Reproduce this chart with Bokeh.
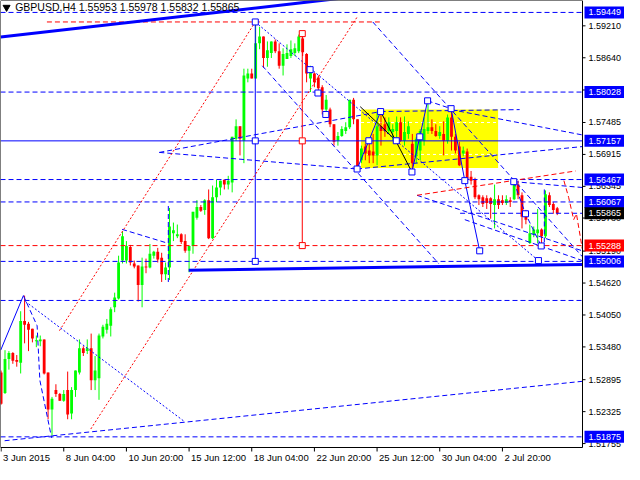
from bokeh.plotting import figure
from bokeh.models import Range1d
from bokeh.core.properties import value
from bokeh.embed import file_html
from bokeh.resources import INLINE

# ---------------- data ----------------
title_text = "GBPUSD,H4  1.55953 1.55978 1.55832 1.55865"

open_ = [1.53023, 1.52658, 1.53266, 1.53370, 1.53248, 1.53196, 1.53944, 1.53892, 1.53805, 1.53579,
         1.53579, 1.53614, 1.53023, 1.52362, 1.52710, 1.52640, 1.52518, 1.52710, 1.52293, 1.52710,
         1.53023, 1.53457, 1.53405, 1.53457, 1.52884, 1.52919, 1.53666, 1.53788, 1.53857, 1.54187,
         1.54344, 1.55021, 1.55021, 1.55265, 1.54969, 1.54934, 1.54587, 1.54917, 1.54899, 1.55108,
         1.55178, 1.55073, 1.54777, 1.54899, 1.55508, 1.55456, 1.55490, 1.55369, 1.55195, 1.55282,
         1.55786, 1.55977, 1.55925, 1.56099, 1.55421, 1.56151, 1.56325, 1.56464, 1.56377, 1.56412,
         1.57194, 1.57419, 1.57159, 1.58272, 1.58358, 1.58272, 1.58897, 1.59019, 1.58636, 1.58723,
         1.58932, 1.58758, 1.58497, 1.58619, 1.58671, 1.58723, 1.58758, 1.58984, 1.58706, 1.58272,
         1.58358, 1.58289, 1.58115, 1.57715, 1.57715, 1.57454, 1.57159, 1.57246, 1.57332, 1.57402,
         1.57889, 1.57541, 1.56811, 1.57055, 1.56985, 1.56968, 1.56898, 1.57419, 1.57454, 1.57332,
         1.57315, 1.57332, 1.57489, 1.57159, 1.57281, 1.57107, 1.56881, 1.56985, 1.57159, 1.57332,
         1.57402, 1.57332, 1.57246, 1.57281, 1.57159, 1.57576, 1.57229, 1.57055, 1.56933, 1.56968,
         1.56516, 1.56464, 1.56186, 1.56151, 1.56134, 1.56134, 1.56012, 1.56117, 1.56099, 1.56047,
         1.56099, 1.56117, 1.56377, 1.56186, 1.55855, 1.55334, 1.55490, 1.55508, 1.55577, 1.55456,
         1.56186, 1.56029, 1.55953]
high = [1.53058, 1.53422, 1.53405, 1.53387, 1.53335, 1.54117, 1.54396, 1.53927, 1.53805, 1.53683,
        1.53683, 1.53614, 1.53023, 1.52588, 1.52814, 1.52658, 1.52710, 1.53040, 1.52762, 1.53058,
        1.53614, 1.53492, 1.53614, 1.53718, 1.53318, 1.53718, 1.53875, 1.53979, 1.54187, 1.54448,
        1.55108, 1.55543, 1.55369, 1.55300, 1.55021, 1.54934, 1.55073, 1.55056, 1.55317, 1.55195,
        1.55247, 1.55160, 1.54986, 1.55960, 1.55699, 1.55664, 1.55508, 1.55490, 1.55282, 1.55890,
        1.56099, 1.56012, 1.56117, 1.56290, 1.56360, 1.56464, 1.56447, 1.56464, 1.56533, 1.57229,
        1.57541, 1.57419, 1.58445, 1.58445, 1.58445, 1.59262, 1.59193, 1.59019, 1.58932, 1.58932,
        1.58967, 1.58897, 1.58810, 1.58880, 1.58949, 1.58897, 1.59054, 1.59071, 1.58723, 1.58497,
        1.58376, 1.58324, 1.58150, 1.57976, 1.57750, 1.57454, 1.57315, 1.57419, 1.57489, 1.57889,
        1.57924, 1.57541, 1.57072, 1.57107, 1.57107, 1.57281, 1.57680, 1.57680, 1.57576, 1.57576,
        1.57454, 1.57593, 1.57576, 1.57593, 1.57506, 1.57281, 1.57229, 1.57367, 1.57576, 1.57872,
        1.57541, 1.57454, 1.57419, 1.57506, 1.57628, 1.57732, 1.57281, 1.57142, 1.57055, 1.57020,
        1.56620, 1.56499, 1.56203, 1.56186, 1.56186, 1.56151, 1.56377, 1.56186, 1.56186, 1.56186,
        1.56151, 1.56412, 1.56447, 1.56238, 1.55925, 1.55664, 1.55629, 1.55942, 1.55595, 1.56273,
        1.56238, 1.56064, 1.55978]
low = [1.52449, 1.52640, 1.53075, 1.53179, 1.53127, 1.53006, 1.53544, 1.53405, 1.53561, 1.53475,
       1.53492, 1.52988, 1.52189, 1.51893, 1.52588, 1.52518, 1.52501, 1.52189, 1.52189, 1.52588,
       1.52988, 1.53318, 1.53353, 1.52710, 1.52710, 1.52536, 1.53631, 1.53718, 1.53666, 1.54100,
       1.54326, 1.54969, 1.54969, 1.54934, 1.54882, 1.54291, 1.54187, 1.54795, 1.54882, 1.55056,
       1.54986, 1.54639, 1.54674, 1.54674, 1.55369, 1.55421, 1.55317, 1.55160, 1.54812, 1.55143,
       1.55751, 1.55890, 1.55838, 1.55404, 1.55404, 1.56064, 1.56186, 1.56290, 1.56290, 1.56238,
       1.57159, 1.56898, 1.56759, 1.58202, 1.58272, 1.58272, 1.58793, 1.58462, 1.58480, 1.58636,
       1.58723, 1.58445, 1.58324, 1.58619, 1.58636, 1.58671, 1.58723, 1.58671, 1.58202, 1.58028,
       1.58115, 1.58011, 1.57628, 1.57628, 1.57402, 1.57072, 1.57072, 1.57229, 1.57281, 1.57367,
       1.57454, 1.56637, 1.56759, 1.56811, 1.56759, 1.56759, 1.56724, 1.57072, 1.57229, 1.57281,
       1.57159, 1.57159, 1.57142, 1.57072, 1.57194, 1.56602, 1.56759, 1.56811, 1.57072, 1.57281,
       1.57281, 1.57229, 1.57194, 1.56898, 1.57107, 1.56985, 1.56933, 1.56707, 1.56881, 1.56412,
       1.56377, 1.56117, 1.56012, 1.55977, 1.55942, 1.55768, 1.55595, 1.55942, 1.56012, 1.56012,
       1.55977, 1.56099, 1.56117, 1.55595, 1.55669, 1.55317, 1.55438, 1.55334, 1.55265, 1.55421,
       1.55977, 1.55856, 1.55832]
close = [1.52466, 1.53266, 1.53370, 1.53231, 1.53214, 1.53944, 1.53875, 1.53788, 1.53631, 1.53596,
         1.53614, 1.53006, 1.52362, 1.52553, 1.52640, 1.52518, 1.52640, 1.52275, 1.52710, 1.53058,
         1.53457, 1.53370, 1.53457, 1.52884, 1.53058, 1.53683, 1.53840, 1.53892, 1.54152, 1.54361,
         1.54986, 1.55456, 1.55282, 1.54986, 1.54917, 1.54587, 1.54917, 1.54899, 1.55143, 1.55178,
         1.55038, 1.54777, 1.54899, 1.55629, 1.55560, 1.55490, 1.55352, 1.55195, 1.55282, 1.55890,
         1.55977, 1.55908, 1.56099, 1.55421, 1.56151, 1.56325, 1.56447, 1.56377, 1.56447, 1.57229,
         1.57419, 1.57194, 1.58324, 1.58358, 1.58272, 1.58897, 1.59019, 1.58636, 1.58775, 1.58932,
         1.58758, 1.58497, 1.58706, 1.58723, 1.58793, 1.58810, 1.59019, 1.58740, 1.58358, 1.58445,
         1.58202, 1.58098, 1.57715, 1.57889, 1.57454, 1.57142, 1.57246, 1.57367, 1.57402, 1.57889,
         1.57541, 1.56707, 1.57020, 1.56933, 1.56898, 1.56898, 1.57419, 1.57332, 1.57332, 1.57489,
         1.57367, 1.57489, 1.57159, 1.57315, 1.57419, 1.56759, 1.57194, 1.57332, 1.57367, 1.57402,
         1.57332, 1.57246, 1.57315, 1.57159, 1.57576, 1.57229, 1.56985, 1.56724, 1.56985, 1.56481,
         1.56447, 1.56151, 1.56117, 1.56029, 1.56047, 1.56029, 1.56117, 1.56012, 1.56047, 1.56117,
         1.56064, 1.56377, 1.56186, 1.55803, 1.55751, 1.55508, 1.55577, 1.55577, 1.55456, 1.56203,
         1.56012, 1.55925, 1.55865]
bars = list(range(len(close)))

x_tick_bars = [0, 16, 32, 48, 64, 80, 96, 112, 128]
x_tick_labels = ["3 Jun 2015", "8 Jun 04:00", "10 Jun 20:00", "15 Jun 12:00", "18 Jun 04:00",
                 "22 Jun 20:00", "25 Jun 12:00", "30 Jun 04:00", "2 Jul 20:00"]
y_tick_values = [1.59210, 1.58640, 1.58065, 1.57485, 1.56915, 1.56345, 1.55780, 1.55190,
                 1.54620, 1.54050, 1.53480, 1.52895, 1.52325, 1.51755]
y_tick_labels = ["1.59210", "1.58640", "1.58065", "1.57485", "1.56915", "1.56345", "1.55780",
                 "1.55190", "1.54620", "1.54050", "1.53480", "1.52895", "1.52325", "1.51755"]

# horizontal levels drawn on the chart
blue_dash_levels = [1.59449, 1.58028, 1.56467, 1.56067, 1.55006, 1.54309, 1.51875]
blue_solid_levels = [1.57157]
red_dash_levels = [1.55288]

# price tags on the right scale
tag_prices = [1.59449, 1.58028, 1.57157, 1.56467, 1.56067, 1.55865, 1.55288, 1.55006, 1.51875]
tag_texts = ["1.59449", "1.58028", "1.57157", "1.56467", "1.56067", "1.55865", "1.55288",
             "1.55006", "1.51875"]
tag_kinds = ["blue", "blue", "blue", "blue", "blue", "current", "red", "blue", "blue"]

# drawn objects (bar index, price)
zone_bars = [91.9, 126.9]
zone_prices = [1.56672, 1.57715]

blue_dash_x = [[5.7, 9.2, 9.9, 12.9], [0.9, 148.4], [66.7, 111.7], [40.4, 96.9], [40.4, 90.9],
               [90.9, 148.4], [94.9, 148.4], [96.9, 132.4], [114.9, 148.4], [108.9, 114.9],
               [106.2, 148.4], [118.4, 148.4], [130.9, 148.4], [130.9, 133.9, 137.9],
               [138.7, 138.7], [30.9, 42.4], [42.7, 42.7], [117.2, 148.4]]
blue_dash_y = [[1.54396, 1.53857, 1.52884, 1.51858], [1.51806, 1.52866], [1.58497, 1.54969],
               [1.56951, 1.57680], [1.56951, 1.56655], [1.56655, 1.57055], [1.59279, 1.55091],
               [1.57680, 1.57715], [1.57715, 1.57263], [1.57872, 1.57732], [1.56186, 1.55195],
               [1.55751, 1.55021], [1.56429, 1.56325], [1.56429, 1.55856, 1.55282],
               [1.56290, 1.55282], [1.55578, 1.55334], [1.55995, 1.54639], [1.55865, 1.55865]]
blue_dot_x = [[6.2, 46.7], [64.9, 137.2]]
blue_dot_y = [[1.54291, 1.52154], [1.59279, 1.55021]]
blue_solid_x = [[-0.1, 5.7], [90.9, 93.9, 96.9], [104.9, 106.9, 108.9], [114.9, 118.4, 122.2],
                [64.9, 64.9]]
blue_solid_y = [[1.53422, 1.54396], [1.56655, 1.57159, 1.57680], [1.56602, 1.57229, 1.57872],
                [1.57732, 1.56447, 1.55195], [1.59279, 1.55006]]
black_x = [[91.7, 100.9], [96.9, 104.9]]
black_y = [[1.57767, 1.57159], [1.57680, 1.56602]]
red_dot_x = [[14.9, 64.9], [22.9, 90.9]]
red_dot_y = [[1.53770, 1.59279], [1.52015, 1.59366]]
red_dash_x = [[11.7, 96.7], [106.2, 146.7], [143.7, 144.9, 146.2, 146.9, 148.4]]
red_dash_y = [[1.59279, 1.59279], [1.56186, 1.56620], [1.56447, 1.56151, 1.55751, 1.55856, 1.55230]]
red_solid_x = [[76.9, 76.9]]
red_solid_y = [[1.59071, 1.55288]]
thick_x = [[-0.1, 90.0], [47.9, 148.4]]
thick_y = [[1.59010, 1.59728], [1.54847, 1.54952]]

blue_sq_x = [64.9, 64.9, 64.9, 78.9, 80.9, 82.9, 90.9, 93.9, 96.9, 100.9, 104.9, 106.9, 108.9,
             114.9, 118.4, 122.2, 137.2, 130.9, 133.9, 137.9]
blue_sq_y = [1.59279, 1.57157, 1.55006, 1.58428, 1.58011, 1.57628, 1.56655, 1.57159, 1.57680,
             1.57159, 1.56602, 1.57229, 1.57872, 1.57732, 1.56447, 1.55195, 1.55021, 1.56429,
             1.55856, 1.55282]
red_sq_x = [76.9, 76.9, 76.9]
red_sq_y = [1.59071, 1.57157, 1.55288]

# ---------------- layout ----------------
W, H = 624, 464            # figure size (px)
CHART_W, CHART_H = 582, 447  # price area inside the figure (px)
X0, X1 = -0.15, 148.45     # bar range of the price area
Y0, Y1 = 1.51685, 1.59662  # price range of the price area
DX = (X1 - X0) / CHART_W   # data units per pixel
DY = (Y1 - Y0) / CHART_H
XR = X0 + DX * W
YB = Y1 - DY * H

BLUE = "#0000FF"
RED = "#FF0000"
GREEN = "#00FF00"
FONT = "Liberation Sans"

p = figure(width=W, height=H, x_range=Range1d(X0, XR), y_range=Range1d(YB, Y1),
           x_axis_location=None, y_axis_location=None, output_backend="svg",
           toolbar_location=None, min_border=0)
p.background_fill_color = "white"
p.border_fill_color = "white"
p.outline_line_color = None
p.xgrid.visible = False
p.ygrid.visible = False

# yellow zone
p.quad(left=[zone_bars[0]], right=[zone_bars[1]], bottom=[zone_prices[0]], top=[zone_prices[1]],
       fill_color="#FFFF00", line_color=None)
# white grid, visible only on the zone
grid_in_zone = [v for v in y_tick_values if zone_prices[0] < v < zone_prices[1]]
p.segment(x0=[zone_bars[0]] * len(grid_in_zone), x1=[zone_bars[1]] * len(grid_in_zone),
          y0=grid_in_zone, y1=grid_in_zone, line_color="white", line_dash="3 3", line_width=1)

# candles
colors = [GREEN if c >= o else RED for o, c in zip(open_, close)]
body_lo = [min(o, c) for o, c in zip(open_, close)]
body_hi = [max(max(o, c), min(o, c) + DY) for o, c in zip(open_, close)]
p.segment(x0=bars, x1=bars, y0=low, y1=high, line_color=colors, line_width=1)
p.vbar(x=bars, bottom=body_lo, top=body_hi, width=0.72, fill_color=colors, line_color=None)

# horizontal levels
def hlines(levels, color, dash, width=1):
    n = len(levels)
    p.segment(x0=[X0] * n, x1=[X1] * n, y0=levels, y1=levels, line_color=color,
              line_dash=dash, line_width=width)

hlines(blue_dash_levels, BLUE, "5 3")
hlines(blue_solid_levels, BLUE, "solid")
hlines(red_dash_levels, RED, "5 3")

# drawn trend objects
p.multi_line(xs=blue_dash_x, ys=blue_dash_y, line_color=BLUE, line_dash="5 3", line_width=1)
p.multi_line(xs=blue_dot_x, ys=blue_dot_y, line_color=BLUE, line_dash="2 2", line_width=1)
p.multi_line(xs=blue_solid_x, ys=blue_solid_y, line_color=BLUE, line_width=1)
p.multi_line(xs=black_x, ys=black_y, line_color="black", line_width=1)
p.multi_line(xs=red_dot_x, ys=red_dot_y, line_color=RED, line_dash="2 2", line_width=1)
p.multi_line(xs=red_dash_x, ys=red_dash_y, line_color=RED, line_dash="5 3", line_width=1)
p.multi_line(xs=red_solid_x, ys=red_solid_y, line_color=RED, line_width=1)
p.multi_line(xs=thick_x, ys=thick_y, line_color=BLUE, line_width=3)

p.scatter(x=blue_sq_x, y=blue_sq_y, marker="square", size=6, fill_color="white",
          line_color=BLUE, line_width=1)
p.scatter(x=red_sq_x, y=red_sq_y, marker="square", size=6, fill_color="white",
          line_color=RED, line_width=1)

# white axis area (covers anything drawn past the price area)
p.quad(left=[X1], right=[XR], bottom=[YB], top=[Y1], fill_color="white", line_color=None)
p.quad(left=[X0], right=[XR], bottom=[YB], top=[Y0], fill_color="white", line_color=None)

# frame border
p.multi_line(xs=[[X0, X1, X1, X0, X0]], ys=[[Y1, Y1, Y0, Y0, Y1]], line_color="black",
             line_width=1)

# x axis ticks + labels
nx = len(x_tick_bars)
p.segment(x0=x_tick_bars, x1=x_tick_bars, y0=[Y0] * nx, y1=[Y0 - 4 * DY] * nx,
          line_color="black", line_width=1)
p.text(x=x_tick_bars, y=[Y0] * nx, text=x_tick_labels, x_offset=2, y_offset=4,
       text_align="left", text_baseline="top", text_font=value(FONT),
       text_font_size=value("9.5px"), text_color="black")

# y axis ticks + labels
ny = len(y_tick_values)
p.segment(x0=[X1] * ny, x1=[X1 + 3 * DX] * ny, y0=y_tick_values, y1=y_tick_values,
          line_color="black", line_width=1)
p.text(x=[X1] * ny, y=y_tick_values, text=y_tick_labels, x_offset=6, text_align="left",
       text_baseline="middle", text_font=value(FONT), text_font_size=value("9px"),
       text_color="black")

# price tags
tag_bg = {"blue": BLUE, "red": RED, "current": "black"}
tag_colors = [tag_bg[k] for k in tag_kinds]
nt = len(tag_prices)
p.rect(x=[X1 + 22.5 * DX] * nt, y=tag_prices, width=41, height=12, width_units="screen",
       height_units="screen", fill_color=tag_colors, line_color=None)
p.text(x=[X1] * nt, y=tag_prices, text=tag_texts, x_offset=6, text_align="left",
       text_baseline="middle", text_font=value(FONT), text_font_size=value("9px"),
       text_color="white")

# header
p.scatter(x=[1.4], y=[1.59540], marker="inverted_triangle", size=7, fill_color="black",
          line_color="black")
p.text(x=[3.6], y=[1.59540], text=[title_text], text_align="left", text_baseline="middle",
       text_font=value(FONT), text_font_size=value("10.5px"), text_color="black")

open("out.html", "w").write(file_html(p, INLINE))
